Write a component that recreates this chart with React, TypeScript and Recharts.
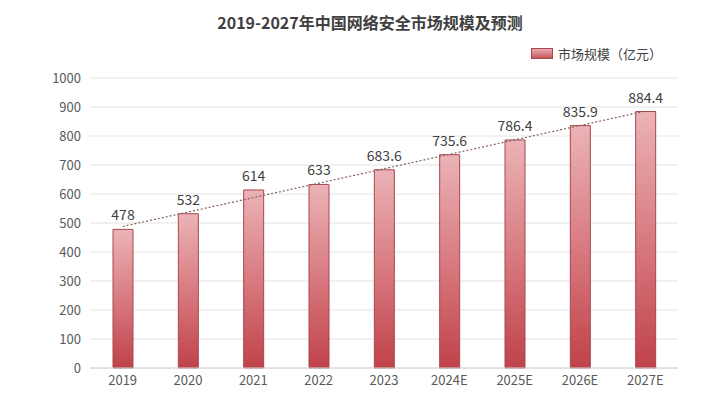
import { ComposedChart, Bar, Line, XAxis, YAxis, CartesianGrid, LabelList } from 'recharts';

const YEARS = ['2019', '2020', '2021', '2022', '2023', '2024E', '2025E', '2026E', '2027E'];
const MARKET_SIZE = [478, 532, 614, 633, 683.6, 735.6, 786.4, 835.9, 884.4]; // 亿元
const Y_TICKS = [0, 100, 200, 300, 400, 500, 600, 700, 800, 900, 1000];

const FONT = '"Noto Sans CJK SC", "Noto Sans", sans-serif';

// linear trendline (least squares), like the Excel original
const n = MARKET_SIZE.length;
const meanX = (n - 1) / 2;
const meanY = MARKET_SIZE.reduce((a, b) => a + b, 0) / n;
const slope =
  MARKET_SIZE.reduce((s, y, i) => s + (i - meanX) * (y - meanY), 0) /
  MARKET_SIZE.reduce((s, _, i) => s + (i - meanX) ** 2, 0);

const data = YEARS.map((year, i) => ({
  year,
  value: MARKET_SIZE[i],
  trend: meanY + slope * (i - meanX),
}));

export default function App() {
  return (
    <div style={{ margin: -8, width: 713, height: 393, background: '#efefef', position: 'relative', overflow: 'hidden' }}>
      <div style={{ position: 'absolute', left: 6, top: 6, right: 0, bottom: 0, background: '#fff' }} />
      <div
        style={{
          position: 'absolute',
          top: 10,
          left: 0,
          width: 740,
          textAlign: 'center',
          fontFamily: FONT,
          fontWeight: 700,
          fontSize: 16,
          color: '#404040',
        }}
      >
        2019-2027年中国网络安全市场规模及预测
      </div>
      {/* legend */}
      <div
        style={{
          position: 'absolute',
          top: 44,
          left: 531,
          display: 'flex',
          alignItems: 'center',
          fontSize: 13,
          color: '#404040',
          fontFamily: FONT,
        }}
      >
        <span
          style={{
            display: 'inline-block',
            width: 20,
            height: 9,
            marginRight: 5,
            background: 'linear-gradient(#e8aeb2, #c9565c)',
            border: '1px solid #a8474f',
          }}
        />
        市场规模（亿元）
      </div>
      <div style={{ position: 'absolute', top: 0, left: 0 }}>
        <ComposedChart width={713} height={393} data={data} margin={{ top: 78, right: 35, left: 0, bottom: 0 }}>
          <defs>
            <linearGradient id="barFill" x1="0" y1="0" x2="0" y2="1">
              <stop offset="0%" stopColor="#ebb3b6" />
              <stop offset="55%" stopColor="#d6757b" />
              <stop offset="100%" stopColor="#c0424a" />
            </linearGradient>
            <filter id="glow" x="-50%" y="-5%" width="200%" height="110%">
              <feGaussianBlur in="SourceAlpha" stdDeviation="2" />
              <feFlood floodColor="#e07a80" floodOpacity="0.35" />
              <feComposite operator="in" in2="SourceAlpha" />
              <feMerge>
                <feMergeNode />
                <feMergeNode in="SourceGraphic" />
              </feMerge>
            </filter>
          </defs>
          <CartesianGrid vertical={false} stroke="#e3e3e3" />
          <XAxis
            dataKey="year"
            tickLine={false}
            axisLine={{ stroke: '#d4d4d4' }}
            height={25}
            tickSize={0}
            tickMargin={8}
            tick={{ fontSize: 13, fill: '#595959', fontFamily: FONT }}
          />
          <YAxis
            width={90}
            domain={[0, 1000]}
            ticks={Y_TICKS}
            axisLine={false}
            tickLine={false}
            tickSize={0}
            tickMargin={9}
            tick={{ fontSize: 13, fill: '#595959', fontFamily: FONT }}
          />
          <Bar
            dataKey="value"
            barSize={20}
            fill="url(#barFill)"
            stroke="#a9474f"
            strokeWidth={1}
            isAnimationActive={false}
          >
            <LabelList dataKey="value" position="top" offset={9} fill="#404040" fontSize={14} fontFamily={FONT} />
          </Bar>
          <Line
            dataKey="trend"
            type="linear"
            stroke="#86605e"
            strokeWidth={1.2}
            strokeDasharray="2 2"
            dot={false}
            activeDot={false}
            isAnimationActive={false}
          />
        </ComposedChart>
      </div>
    </div>
  );
}
